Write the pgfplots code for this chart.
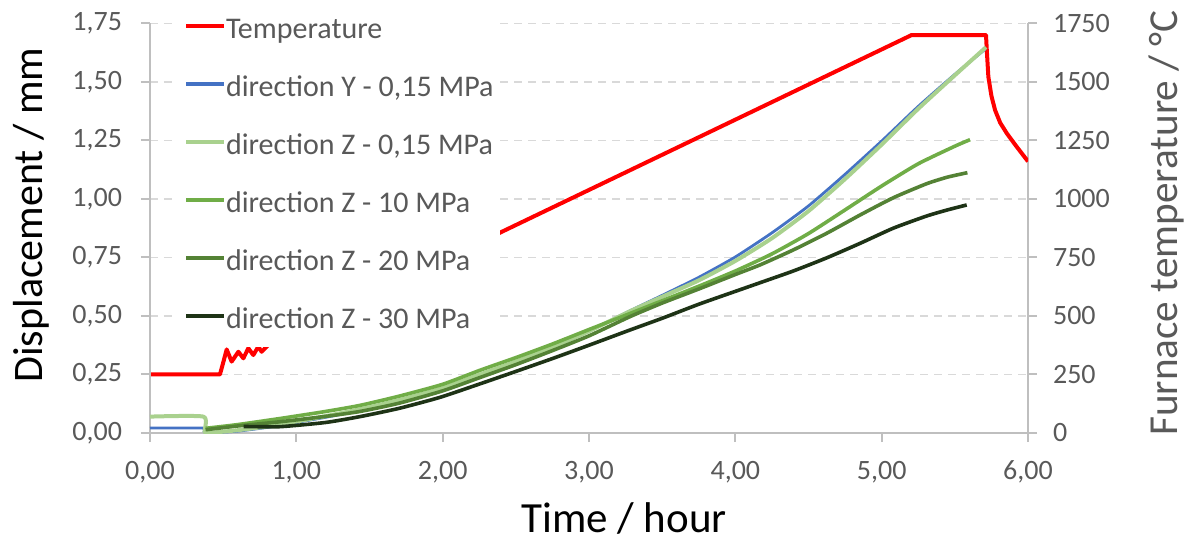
\documentclass[border=0pt]{standalone}
\usepackage{fontspec}
\setmainfont{Carlito}
\usepackage{pgfplots}
\pgfplotsset{compat=1.18}
\definecolor{axgrey}{HTML}{BFBFBF}
\definecolor{gridgrey}{HTML}{D9D9D9}
\definecolor{txtgrey}{HTML}{595959}
\definecolor{cblue}{HTML}{4472C4}
\definecolor{clgreen}{HTML}{A9D18E}
\definecolor{cgreen}{HTML}{70AD47}
\definecolor{cdgreen}{HTML}{548235}
\definecolor{cvdgreen}{HTML}{1E3316}

\pgfplotsset{
 common/.style={
  width=439pt, height=204.85pt, scale only axis,
  xmin=0, xmax=6,
  tick align=outside, major tick length=4.5pt,
  tick style={draw=axgrey, line width=1pt},
  axis line style={-, draw=axgrey, line width=1pt},
  ticklabel style={font=\fontsize{14}{16}\selectfont, text=txtgrey},
  label style={font=\fontsize{21}{26}\selectfont},
  /pgf/number format/assume math mode=true,
 }}

\pgfplotstableread{
h T
0 250
0.478 250
0.50 300
0.524 357
0.558 305
0.604 347
0.638 319
0.672 362
0.706 333
0.74 369
0.763 347
0.797 369
0.83 387
5.205 1700
5.713 1700
5.718 1640
5.729 1522
5.75 1440
5.775 1379
5.81 1325
5.855 1280
5.92 1225
6.0 1160
}\temp

\pgfplotstableread{
h d
0 0.021
0.36 0.021
0.37 0.004
0.45 0.002
0.6 0.008
0.8 0.024
1.0 0.045
1.25 0.073
1.5 0.105
1.75 0.142
2.0 0.185
2.255 0.245
2.5 0.300
2.75 0.365
3.0 0.435
3.28 0.522
3.5 0.588
3.75 0.665
4.0 0.752
4.25 0.855
4.5 0.970
4.75 1.105
5.0 1.247
5.25 1.395
5.5 1.532
5.705 1.638
}\blueY

\pgfplotstableread{
h d
0 0.070
0.365 0.070
0.375 0.003
0.45 0.003
0.6 0.012
0.8 0.028
1.0 0.049
1.25 0.078
1.5 0.110
1.75 0.148
2.0 0.192
2.255 0.250
2.5 0.305
2.75 0.367
3.0 0.435
3.28 0.520
3.5 0.582
3.75 0.652
4.0 0.735
4.25 0.832
4.5 0.948
4.75 1.085
5.0 1.232
5.25 1.385
5.5 1.528
5.713 1.648
}\lgreenZ

\pgfplotstableread{
h d
0.38 0.020
0.6 0.036
0.9 0.063
1.2 0.092
1.435 0.118
1.7 0.157
2.0 0.208
2.255 0.268
2.5 0.322
2.75 0.380
3.0 0.442
3.25 0.503
3.5 0.565
3.75 0.627
4.0 0.692
4.25 0.765
4.5 0.852
4.75 0.953
5.0 1.055
5.25 1.150
5.5 1.225
5.604 1.253
}\greenTen

\pgfplotstableread{
h d
0.38 0.014
0.6 0.030
0.888 0.048
1.2 0.071
1.435 0.092
1.7 0.127
2.0 0.180
2.255 0.237
2.5 0.292
2.75 0.352
3.0 0.415
3.28 0.497
3.5 0.555
3.75 0.615
4.0 0.677
4.169 0.718
4.396 0.782
4.624 0.853
4.852 0.931
5.08 1.005
5.308 1.065
5.45 1.093
5.586 1.112
}\greenTwenty

\pgfplotstableread{
h d
0.64 0.028
0.888 0.027
1.2 0.045
1.435 0.070
1.7 0.105
1.98 0.152
2.255 0.210
2.5 0.263
2.75 0.318
3.0 0.375
3.28 0.440
3.5 0.490
3.75 0.550
4.0 0.605
4.169 0.642
4.396 0.692
4.624 0.748
4.852 0.810
5.08 0.875
5.308 0.927
5.45 0.953
5.581 0.974
}\greenThirty

\begin{document}
\begin{tikzpicture}
\useasboundingbox (-75pt,-54.5pt) rectangle (518pt,216.5pt);
% temperature axis (right)
\begin{axis}[common, at={(0,0)}, anchor=south west,
  axis x line=none, axis y line*=right,
  ymin=0, ymax=1750, ytick={0,250,500,750,1000,1250,1500,1750},
  yticklabel style={/pgf/number format/1000 sep={}, xshift=4.5pt},
  ymajorgrids, grid style={draw=gridgrey, dash pattern=on 4pt off 3pt, line width=0.75pt},
  ylabel={Furnace temperature / °C},
  ylabel style={at={(axis description cs:1.1708,0.5126)}, anchor=base, text=txtgrey, font=\fontsize{20.6}{24}\selectfont},
]
\addplot[red, line width=2pt, line join=round] table[x=h, y=T] {\temp};
\end{axis}
% displacement axis (left)
\begin{axis}[common, at={(0,0)}, anchor=south west,
  axis x line*=bottom, axis y line*=left,
  ymin=0, ymax=1.75, ytick={0,0.25,0.5,0.75,1,1.25,1.5,1.75},
  xtick={0,1,2,3,4,5,6},
  xticklabel style={/pgf/number format/.cd, fixed, fixed zerofill, precision=2, use comma, /tikz/yshift=-6pt},
  yticklabel style={/pgf/number format/.cd, fixed, fixed zerofill, precision=2, use comma, /tikz/xshift=-6pt},
  xlabel={Time / hour},
  xlabel style={at={(axis description cs:0.54,-0.244)}, anchor=base, font=\fontsize{21.5}{26}\selectfont},
  ylabel={Displacement / mm},
  ylabel style={at={(axis description cs:-0.1219,0.532)}, anchor=base},
  legend cell align=left,
  legend style={at={(rel axis cs:0,1)}, anchor=north west, xshift=13.8pt, yshift=5.5pt,
    fill=white, draw=none, inner sep=3pt, row sep=13pt, column sep=0pt,
    font=\fontsize{15}{17}\selectfont, text=txtgrey,
    nodes={inner sep=0pt, text height=10pt, text depth=6pt, anchor=west}},
  legend image code/.code={\draw[#1, line width=2pt] (0pt,4.5pt) -- (19pt,4.5pt);},
]
\addlegendimage{red, line width=2pt}
\addlegendentry{Temperature}
\addplot[cblue, line width=1.4pt, line join=round, smooth, tension=0.35] table[x=h, y=d] {\blueY};
\addlegendentry{direction Y - 0,15 MPa}
\addplot[clgreen, line width=2pt, line join=round, smooth, tension=0.35] table[x=h, y=d] {\lgreenZ};
\addlegendentry{direction Z - 0,15 MPa}
\addplot[cgreen, line width=1.8pt, line join=round, smooth, tension=0.35] table[x=h, y=d] {\greenTen};
\addlegendentry{direction Z - 10 MPa}
\addplot[cdgreen, line width=1.8pt, line join=round, smooth, tension=0.35] table[x=h, y=d] {\greenTwenty};
\addlegendentry{direction Z - 20 MPa}
\addplot[cvdgreen, line width=1.8pt, line join=round, smooth, tension=0.35] table[x=h, y=d] {\greenThirty};
\addlegendentry{direction Z - 30 MPa}
\end{axis}
\end{tikzpicture}
\end{document}
